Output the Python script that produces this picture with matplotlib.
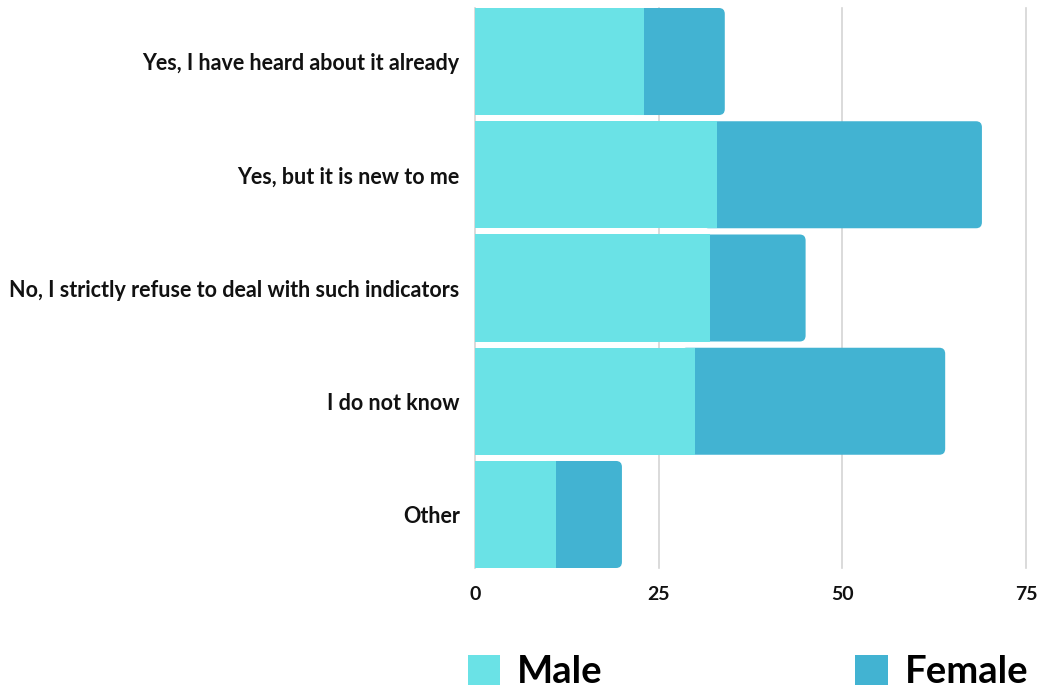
import matplotlib
matplotlib.use("Agg")
import matplotlib.pyplot as plt
from matplotlib.patches import FancyBboxPatch, Patch

plt.rcParams['font.family'] = ['Lato', 'DejaVu Sans']

# survey answers, top to bottom
answers = [
    "Yes, I have heard about it already",
    "Yes, but it is new to me",
    "No, I strictly refuse to deal with such indicators",
    "I do not know",
    "Other",
]
male = [23, 33, 32, 30, 11]
female = [11, 36, 13, 34, 9]
xticks = [0, 25, 50, 75]

male_color = "#6ae2e6"
female_color = "#42b3d2"
bar_h = 0.945

fig = plt.figure(figsize=(10.42, 6.92), dpi=100)
ax = fig.add_axes([475 / 1042, 1 - 568 / 692, 551 / 1042, 560 / 692])

ys = list(range(len(answers)))

# female segment: rounded box that starts under the male bar so only
# the right-hand corners show
rad = 0.8
aspect = 0.066
for y, m, f in zip(ys, male, female):
    x0 = m - 2
    box = FancyBboxPatch((x0, y - bar_h / 2), m + f - x0, bar_h,
                         boxstyle=f"round,pad=0,rounding_size={rad}",
                         mutation_aspect=aspect,
                         fc=female_color, ec="none", zorder=2)
    ax.add_patch(box)

ax.barh(ys, male, height=bar_h, color=male_color, zorder=3)

ax.set_xlim(0, 75)
ax.set_ylim(len(answers) - 1 + bar_h / 2, -bar_h / 2)

for x in xticks:
    ax.axvline(x, color="#d4d4d4", lw=1.2, zorder=1, clip_on=False)

ax.set_xticks(xticks)
ax.set_xticklabels([str(x) for x in xticks], fontsize=14, fontweight="bold",
                   color="#111111")
ax.set_yticks(ys)
ax.set_yticklabels(answers, fontsize=15.5, fontweight="bold", color="#111111")
ax.tick_params(axis="both", length=0)
ax.tick_params(axis="y", pad=11)
ax.tick_params(axis="x", pad=13)
for s in ax.spines.values():
    s.set_visible(False)

handles = [Patch(fc=male_color, ec="none", label="Male"),
           Patch(fc=female_color, ec="none", label="Female")]
fig.legend(handles=handles, loc="center", bbox_to_anchor=(748 / 1042, 1 - 672 / 692),
           ncol=2, frameon=False, prop={"size": 27.5, "weight": "bold"},
           handlelength=0.85, handleheight=0.85, handletextpad=0.45,
           columnspacing=6.6, borderpad=0)

fig.savefig("out.png", dpi=100)
